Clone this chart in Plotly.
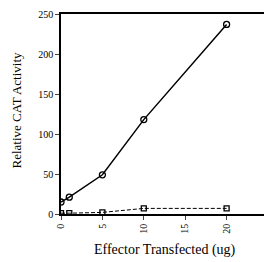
import plotly.graph_objects as go

x_circ = [0, 1, 5, 10, 20]
y_circ = [15, 21, 49, 118, 237]
x_sq = [0, 1, 5, 10, 20]
y_sq = [1, 1, 2, 7, 7]
x_ticks = [0, 5, 10, 15, 20, 25]
y_ticks = [0, 50, 100, 150, 200, 250]

fig = go.Figure()
fig.add_trace(go.Scatter(x=x_sq, y=y_sq, mode="lines+markers",
                         line=dict(color="black", width=1, dash="4px,2px"),
                         marker=dict(symbol="square-open", size=5, color="black", line=dict(width=1.3))))
fig.add_trace(go.Scatter(x=x_circ, y=y_circ, mode="lines+markers",
                         line=dict(color="black", width=1.5),
                         marker=dict(symbol="circle-open", size=6, color="black", line=dict(width=1.3))))

font = "Liberation Serif"
# page body has an 8px default margin; figure sized to fit the 272x262 window
fig.update_layout(
    width=264, height=254, margin=dict(l=53, r=4, t=6, b=48),
    paper_bgcolor="white", plot_bgcolor="white", showlegend=False,
    font=dict(family=font, color="black", size=10),
    xaxis=dict(range=[0, 25], tickvals=x_ticks, tickangle=-90, ticks="outside", ticklen=4,
               showline=True, linecolor="black", linewidth=1.5, mirror=True, showgrid=False,
               zeroline=False, tickfont=dict(size=10), automargin=False),
    yaxis=dict(range=[0, 250], tickvals=y_ticks, ticks="outside", ticklen=4,
               showline=True, linecolor="black", linewidth=1.5, mirror=True, showgrid=False,
               zeroline=False, tickfont=dict(size=10), automargin=False),
    annotations=[
        dict(text="Effector Transfected (ug)", xref="paper", yref="paper", x=0.5, y=-0.18,
             xanchor="center", yanchor="middle", showarrow=False, font=dict(size=14)),
        dict(text="Relative CAT Activity", xref="paper", yref="paper", x=-0.215, y=0.52,
             xanchor="center", yanchor="middle", showarrow=False, textangle=-90, font=dict(size=13)),
    ],
)
fig.write_html("out.html")
